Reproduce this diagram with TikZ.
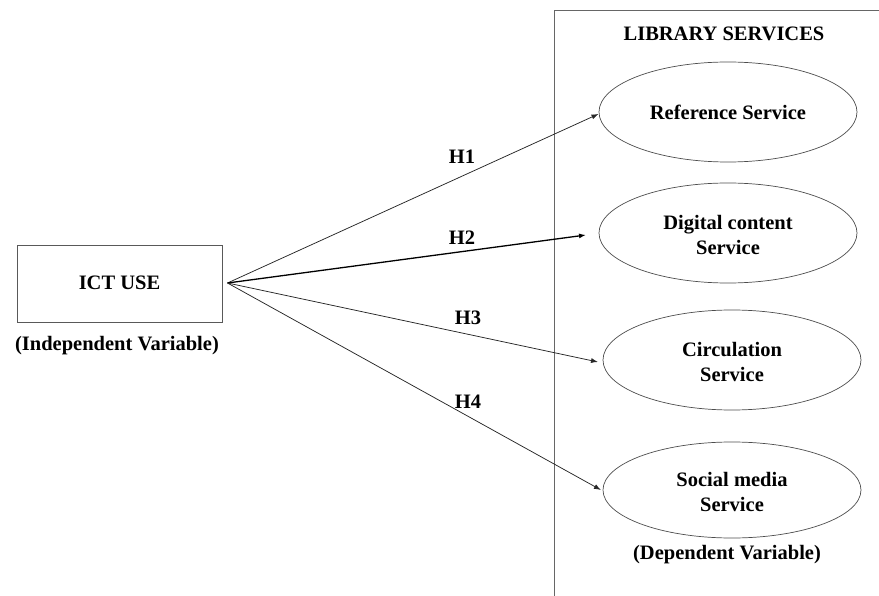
\documentclass[tikz,border=0pt]{standalone}
\usepackage{fontspec}
\setmainfont{Liberation Serif}
\usetikzlibrary{arrows.meta,shapes.geometric}
\begin{document}
\begin{tikzpicture}[x=1pt,y=-1pt,
  lbl/.style={font=\fontsize{20.5}{25}\selectfont\bfseries, align=center, inner sep=0pt},
  svc/.style={draw=black!70, line width=0.7pt, ellipse, minimum width=258pt, minimum height=100pt, inner sep=0pt},
  frame/.style={draw=black!60, line width=1pt},
  conn/.style={draw=black!85, line width=0.75pt, -{Latex[length=7pt,width=5pt]}}
]
\useasboundingbox (0,0) rectangle (879,596);
\path[frame] (879,10.5) -- (554.5,10.5) -- (554.5,596);
\node[lbl] (libt) at (724,34) {LIBRARY SERVICES};
\node[draw=black!65, line width=0.8pt, minimum width=205pt, minimum height=77pt, inner sep=0pt] (ict) at (119.5,283.5) {};
\node[lbl] (ictt) at (119.5,283) {ICT USE};
\node[lbl] (indep) at (117,346) {(Independent Variable)};
\coordinate (src) at (227.5,283);
\node[svc] (s1) at (728,112) {};
\node[lbl] (s1t) at (728,112) {Reference Service};
\node[svc] (s2) at (728,233) {};
\node[lbl] (s2t) at (728,235) {Digital content\\Service};
\node[svc] (s3) at (732,360) {};
\node[lbl] (s3t) at (732,362) {Circulation\\Service};
\node[svc, minimum height=96pt] (s4) at (732,490) {};
\node[lbl] (s4t) at (732,492) {Social media\\Service};
\node[lbl] (dep) at (727,555) {(Dependent Variable)};
\coordinate (e1) at (598.5,114);
\coordinate (e2) at (586,235);
\coordinate (e3) at (598,362);
\coordinate (e4) at (601,490);
\draw[conn] (src) -- (e1);
\draw[conn, line width=1.3pt, draw=black] (src) -- (e2);
\draw[conn] (src) -- (e3);
\draw[conn] (src) -- (e4);
\node[lbl] (h1) at (462,157) {H1};
\node[lbl] (h2) at (462,238) {H2};
\node[lbl] (h3) at (468,318) {H3};
\node[lbl] (h4) at (468,402) {H4};
\end{tikzpicture}
\end{document}
